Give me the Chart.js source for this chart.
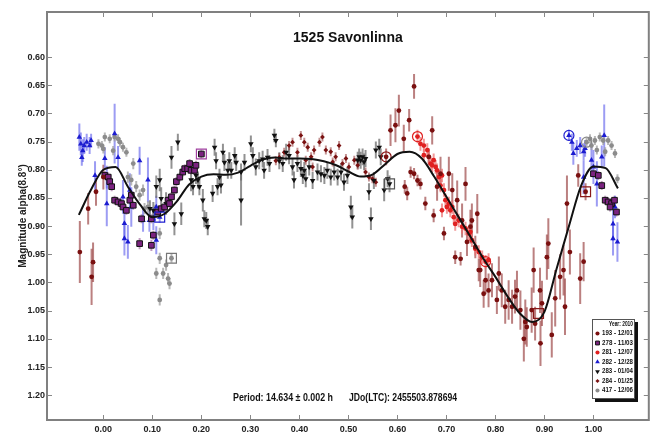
<!DOCTYPE html>
<html>
<head>
<meta charset="utf-8">
<script src="https://cdn.jsdelivr.net/npm/chart.js@4.4.1/dist/chart.umd.min.js"></script>
<style>
html, body { margin: 0; padding: 0; background: #fff; }
</style>
</head>
<body>
<canvas id="myChart" width="657" height="440"></canvas>
<script>
// tick labels
var xTicks = [0, 0.1, 0.2, 0.3, 0.4, 0.5, 0.6, 0.7, 0.8, 0.9, 1.0];
var yTicks = [0.60, 0.65, 0.70, 0.75, 0.80, 0.85, 0.90, 0.95, 1.00, 1.05, 1.10, 1.15, 1.20];

// legend names
var names = ["193 - 12/01", "278 - 11/03", "281 - 12/07", "282 - 12/28", "283 - 01/04", "284 - 01/25", "417 - 12/06"];

// Fourier fit
var fitX = [-0.05, -0.025, 0, 0.025, 0.05, 0.075, 0.1, 0.125, 0.15, 0.175, 0.2, 0.225, 0.25, 0.275, 0.3, 0.325, 0.35, 0.375, 0.4, 0.425, 0.45, 0.475, 0.5, 0.525, 0.55, 0.575, 0.6, 0.625, 0.65, 0.675, 0.7, 0.725, 0.75, 0.775, 0.8, 0.825, 0.85, 0.875, 0.9, 0.925, 0.95, 0.975, 1.0, 1.025, 1.05];
var fitY = [0.880, 0.835, 0.800, 0.795, 0.830, 0.862, 0.884, 0.878, 0.856, 0.826, 0.812, 0.808, 0.809, 0.805, 0.793, 0.782, 0.778, 0.780, 0.780, 0.781, 0.785, 0.792, 0.803, 0.812, 0.808, 0.790, 0.772, 0.768, 0.780, 0.812, 0.848, 0.884, 0.920, 0.957, 0.990, 1.025, 1.055, 1.070, 1.052, 0.975, 0.900, 0.828, 0.794, 0.797, 0.833];

// 193 - 12/01
var p193 = [-0.048, -0.031, -0.024, -0.021, -0.015, 0.000, 0.577, 0.586, 0.596, 0.603, 0.613, 0.624, 0.634, 0.615, 0.620, 0.627, 0.634, 0.641, 0.647, 0.657, 0.664, 0.671, 0.674, 0.681, 0.688, 0.695, 0.705, 0.712, 0.722, 0.718, 0.729, 0.732, 0.739, 0.742, 0.749, 0.752, 0.763, 0.766, 0.759, 0.769, 0.776, 0.780, 0.786, 0.793, 0.803, 0.807, 0.813, 0.820, 0.827, 0.834, 0.840, 0.844, 0.851, 0.861, 0.864, 0.874, 0.878, 0.881, 0.891, 0.895, 0.905, 0.908, 0.915, 0.922, 0.932, 0.939, 0.942, 0.946, 0.952, 0.973, 0.980, 0.984, 0.969, 0.858, 0.892];
var m193 = [0.946, 0.869, 0.990, 0.964, 0.839, 0.813, 0.777, 0.730, 0.721, 0.695, 0.745, 0.712, 0.652, 0.830, 0.842, 0.804, 0.807, 0.819, 0.825, 0.860, 0.777, 0.730, 0.881, 0.830, 0.807, 0.913, 0.807, 0.836, 0.854, 0.955, 0.958, 0.890, 0.825, 0.928, 0.901, 0.890, 0.878, 0.978, 0.937, 0.978, 1.020, 0.996, 1.014, 0.996, 1.031, 0.984, 1.014, 1.043, 1.031, 1.043, 1.025, 1.014, 1.049, 1.070, 1.079, 1.049, 0.978, 1.073, 1.014, 1.037, 0.955, 0.931, 1.093, 1.028, 0.990, 0.978, 1.043, 0.860, 0.946, 0.993, 0.963, 0.839, 0.810, 1.100, 1.108];
var e193 = [0.055, 0.028, 0.050, 0.035, 0.025, 0.022, 0.015, 0.028, 0.030, 0.028, 0.025, 0.020, 0.022, 0.012, 0.012, 0.010, 0.010, 0.010, 0.010, 0.012, 0.015, 0.025, 0.012, 0.025, 0.030, 0.012, 0.030, 0.030, 0.035, 0.012, 0.012, 0.030, 0.030, 0.025, 0.030, 0.030, 0.035, 0.020, 0.020, 0.030, 0.025, 0.025, 0.030, 0.030, 0.025, 0.030, 0.030, 0.030, 0.035, 0.030, 0.030, 0.035, 0.035, 0.040, 0.035, 0.040, 0.040, 0.030, 0.040, 0.040, 0.040, 0.045, 0.040, 0.050, 0.040, 0.045, 0.050, 0.050, 0.040, 0.045, 0.035, 0.015, 0.020, 0.040, 0.040];

// 278 - 11/03
var p278 = [0.003, 0.010, 0.013, 0.017, 0.023, 0.030, 0.037, 0.040, 0.047, 0.054, 0.057, 0.061, 0.078, 0.074, 0.098, 0.098, 0.102, 0.111, 0.118, 0.125, 0.132, 0.135, 0.139, 0.145, 0.149, 0.156, 0.162, 0.166, 0.172, 0.176, 0.179, 0.186, 0.189, 0.200, 1.000, 1.010, 1.017, 1.024, 1.030, 1.037, 1.043, 1.047, 1.034];
var m278 = [0.810, 0.813, 0.821, 0.830, 0.854, 0.857, 0.860, 0.866, 0.872, 0.854, 0.845, 0.863, 0.887, 0.931, 0.887, 0.934, 0.916, 0.875, 0.869, 0.866, 0.854, 0.860, 0.848, 0.836, 0.821, 0.813, 0.804, 0.798, 0.798, 0.789, 0.801, 0.801, 0.792, 0.772, 0.807, 0.810, 0.828, 0.854, 0.857, 0.860, 0.854, 0.875, 0.866];
var e278 = [0.008, 0.008, 0.008, 0.008, 0.008, 0.008, 0.008, 0.008, 0.008, 0.008, 0.008, 0.008, 0.008, 0.010, 0.008, 0.010, 0.008, 0.008, 0.008, 0.008, 0.008, 0.008, 0.008, 0.008, 0.008, 0.008, 0.008, 0.008, 0.008, 0.008, 0.008, 0.008, 0.008, 0.008, 0.008, 0.008, 0.008, 0.008, 0.008, 0.008, 0.008, 0.008, 0.008];

// 281 - 12/07
var p281 = [0.641, 0.647, 0.654, 0.654, 0.661, 0.664, 0.668, 0.671, 0.674, 0.678, 0.681, 0.685, 0.688, 0.691, 0.691, 0.695, 0.698, 0.701, 0.705, 0.708, 0.712, 0.715, 0.718, 0.725, 0.732, 0.739, 0.746, 0.749, 0.752, 0.759, 0.766, 0.773, 0.780, 0.786];
var m281 = [0.741, 0.754, 0.757, 0.774, 0.765, 0.777, 0.789, 0.792, 0.783, 0.795, 0.801, 0.813, 0.828, 0.810, 0.872, 0.836, 0.854, 0.866, 0.860, 0.872, 0.866, 0.884, 0.896, 0.890, 0.901, 0.904, 0.913, 0.910, 0.925, 0.940, 0.946, 0.955, 0.963, 0.960];
var e281 = [0.012, 0.012, 0.012, 0.012, 0.012, 0.012, 0.012, 0.012, 0.012, 0.012, 0.012, 0.012, 0.012, 0.012, 0.012, 0.012, 0.012, 0.012, 0.012, 0.012, 0.012, 0.012, 0.012, 0.012, 0.012, 0.012, 0.012, 0.012, 0.012, 0.012, 0.012, 0.012, 0.012, 0.012];

// 282 - 12/28
var p282 = [-0.049, -0.046, -0.044, -0.042, -0.039, -0.034, -0.028, -0.025, -0.017, 0.003, 0.007, 0.007, 0.023, 0.030, 0.040, 0.043, 0.043, 0.050, 0.054, 0.057, 0.074, 0.081, 0.091, 0.094, 0.102, 0.108, 0.108, 0.115, 0.950, 0.956, 0.959, 0.966, 0.973, 0.980, 0.983, 0.980, 0.996, 1.000, 1.007, 1.017, 1.022, 1.040, 1.040, 1.044, 1.049];
var m282 = [0.742, 0.754, 0.778, 0.766, 0.757, 0.751, 0.757, 0.748, 0.810, 0.780, 0.813, 0.860, 0.736, 0.778, 0.848, 0.895, 0.922, 0.928, 0.836, 0.866, 0.784, 0.890, 0.818, 0.890, 0.887, 0.866, 0.925, 0.884, 0.739, 0.751, 0.771, 0.762, 0.757, 0.768, 0.762, 0.813, 0.783, 0.795, 0.825, 0.777, 0.739, 0.896, 0.922, 0.866, 0.928];
var e282 = [0.024, 0.020, 0.015, 0.020, 0.015, 0.015, 0.015, 0.012, 0.025, 0.020, 0.020, 0.040, 0.053, 0.020, 0.030, 0.025, 0.030, 0.030, 0.030, 0.035, 0.025, 0.020, 0.040, 0.020, 0.020, 0.020, 0.025, 0.010, 0.010, 0.015, 0.020, 0.015, 0.015, 0.015, 0.015, 0.030, 0.030, 0.030, 0.040, 0.020, 0.055, 0.030, 0.030, 0.020, 0.035];

// 283 - 01/04
var p283 = [0.095, 0.102, 0.108, 0.115, 0.118, 0.128, 0.139, 0.145, 0.152, 0.159, 0.179, 0.183, 0.189, 0.193, 0.196, 0.203, 0.206, 0.210, 0.213, 0.223, 0.227, 0.230, 0.233, 0.237, 0.240, 0.244, 0.247, 0.254, 0.257, 0.261, 0.268, 0.271, 0.281, 0.281, 0.288, 0.301, 0.305, 0.311, 0.318, 0.325, 0.328, 0.335, 0.339, 0.349, 0.352, 0.359, 0.366, 0.373, 0.379, 0.386, 0.389, 0.396, 0.403, 0.407, 0.410, 0.413, 0.420, 0.427, 0.437, 0.444, 0.451, 0.457, 0.464, 0.471, 0.478, 0.485, 0.491, 0.498, 0.505, 0.508, 0.519, 0.522, 0.525, 0.529, 0.532, 0.535, 0.542, 0.546, 0.552, 0.556, 0.563, 0.566, 0.573, 0.580, 0.584];
var m283 = [0.869, 0.872, 0.830, 0.818, 0.851, 0.860, 0.778, 0.896, 0.751, 0.878, 0.818, 0.830, 0.810, 0.818, 0.830, 0.854, 0.887, 0.890, 0.901, 0.842, 0.760, 0.784, 0.830, 0.813, 0.827, 0.769, 0.787, 0.801, 0.784, 0.801, 0.775, 0.787, 0.854, 0.804, 0.787, 0.754, 0.775, 0.795, 0.784, 0.781, 0.801, 0.778, 0.789, 0.739, 0.748, 0.784, 0.789, 0.769, 0.775, 0.795, 0.818, 0.789, 0.798, 0.810, 0.801, 0.816, 0.795, 0.819, 0.804, 0.807, 0.810, 0.801, 0.813, 0.804, 0.813, 0.804, 0.822, 0.810, 0.866, 0.884, 0.783, 0.777, 0.783, 0.777, 0.786, 0.780, 0.839, 0.887, 0.819, 0.765, 0.760, 0.777, 0.836, 0.816, 0.825];
var e283 = [0.015, 0.015, 0.020, 0.020, 0.020, 0.020, 0.020, 0.020, 0.015, 0.020, 0.020, 0.015, 0.015, 0.015, 0.015, 0.020, 0.015, 0.015, 0.015, 0.015, 0.015, 0.015, 0.015, 0.015, 0.015, 0.015, 0.015, 0.015, 0.015, 0.015, 0.015, 0.015, 0.045, 0.015, 0.015, 0.015, 0.015, 0.015, 0.015, 0.015, 0.015, 0.015, 0.015, 0.012, 0.012, 0.015, 0.015, 0.015, 0.015, 0.015, 0.015, 0.015, 0.015, 0.015, 0.015, 0.015, 0.015, 0.015, 0.015, 0.015, 0.015, 0.015, 0.015, 0.015, 0.015, 0.015, 0.015, 0.015, 0.020, 0.020, 0.015, 0.015, 0.015, 0.015, 0.015, 0.015, 0.015, 0.020, 0.015, 0.015, 0.015, 0.015, 0.020, 0.015, 0.015];

// 284 - 01/25
var p284 = [0.352, 0.359, 0.369, 0.379, 0.386, 0.396, 0.403, 0.410, 0.413, 0.417, 0.424, 0.427, 0.430, 0.441, 0.447, 0.454, 0.464, 0.468, 0.474, 0.481, 0.488, 0.495, 0.501, 0.512, 0.519, 0.535, 0.542, 0.549, 0.556];
var m284 = [0.784, 0.778, 0.769, 0.757, 0.751, 0.769, 0.739, 0.751, 0.783, 0.760, 0.777, 0.795, 0.765, 0.751, 0.742, 0.765, 0.768, 0.786, 0.777, 0.757, 0.789, 0.780, 0.795, 0.783, 0.792, 0.804, 0.813, 0.816, 0.822];
var e284 = [0.008, 0.008, 0.008, 0.008, 0.008, 0.008, 0.008, 0.008, 0.008, 0.008, 0.008, 0.008, 0.008, 0.008, 0.008, 0.008, 0.008, 0.008, 0.008, 0.008, 0.008, 0.008, 0.008, 0.008, 0.008, 0.008, 0.008, 0.008, 0.008];

// 417 - 12/06
var p417 = [-0.010, -0.003, 0.000, 0.003, 0.013, 0.020, 0.023, 0.030, 0.034, 0.040, 0.047, 0.050, 0.057, 0.061, 0.067, 0.074, 0.081, 0.084, 0.091, 0.105, 0.115, 0.115, 0.108, 0.122, 0.128, 0.132, 0.135, 0.115, 0.139, 0.986, 0.993, 0.996, 1.003, 1.007, 1.013, 1.020, 1.024, 1.030, 1.037, 1.044, 1.049];
var m417 = [0.754, 0.757, 0.763, 0.742, 0.745, 0.766, 0.742, 0.745, 0.751, 0.760, 0.769, 0.813, 0.818, 0.789, 0.830, 0.845, 0.836, 0.869, 0.866, 0.872, 0.913, 0.957, 0.984, 0.984, 0.969, 0.993, 1.002, 1.031, 0.957, 0.751, 0.745, 0.757, 0.748, 0.765, 0.742, 0.748, 0.768, 0.748, 0.757, 0.771, 0.816];
var e417 = [0.008, 0.008, 0.008, 0.008, 0.008, 0.008, 0.008, 0.008, 0.008, 0.008, 0.008, 0.010, 0.010, 0.010, 0.010, 0.010, 0.010, 0.010, 0.010, 0.010, 0.010, 0.010, 0.010, 0.010, 0.010, 0.010, 0.010, 0.010, 0.008, 0.008, 0.008, 0.008, 0.008, 0.008, 0.008, 0.008, 0.008, 0.008, 0.008, 0.008, 0.008];

// open rings and boxes around some points
var ringX = [0.577, 0.641, 0.780, 0.950, 0.986];
var ringY = [0.777, 0.741, 0.963, 0.739, 0.751];
var ringC = ["#8a1a1a", "#e02020", "#e02020", "#2020d0", "#888888"];
var boxX = [0.984, 0.584, 0.139, 0.200, 0.115, 0.888];
var boxY = [0.839, 0.825, 0.957, 0.772, 0.884, 1.055];
var boxC = ["#8a1a1a", "#555555", "#777777", "#a040a0", "#2020d0", "#8a1a1a"];

function pts(xs, ys) {
    var out = [];
    for (var i = 0; i < xs.length; i++) out.push({ x: xs[i], y: ys[i] });
    return out;
}

var narrow = "'Liberation Sans Narrow', 'Liberation Sans', Arial, sans-serif";
var sans = "'Liberation Sans', Arial, sans-serif";

var series = [
    { label: names[0], data: pts(p193, m193), errors: e193, errorColor: "rgba(150,60,60,0.65)", pointStyle: "circle", pointRadius: 2.4, backgroundColor: "#7a1010", borderColor: "#7a1010", borderWidth: 0 },
    { label: names[1], data: pts(p278, m278), errors: e278, errorColor: "rgba(150,90,150,0.6)", pointStyle: "rect", pointRadius: 4, backgroundColor: "#7b2380", borderColor: "#111", borderWidth: 1 },
    { label: names[2], data: pts(p281, m281), errors: e281, errorColor: "rgba(235,110,110,0.7)", pointStyle: "circle", pointRadius: 2.4, backgroundColor: "#e02020", borderColor: "#e02020", borderWidth: 0 },
    { label: names[3], data: pts(p282, m282), errors: e282, errorColor: "rgba(90,90,235,0.6)", pointStyle: "triangle", pointRadius: 3.2, backgroundColor: "#1c1cd0", borderColor: "#1c1cd0", borderWidth: 0 },
    { label: names[4], data: pts(p283, m283), errors: e283, errorColor: "rgba(110,110,110,0.75)", pointStyle: "triangle", pointRotation: 180, pointRadius: 3.2, backgroundColor: "#111", borderColor: "#111", borderWidth: 0 },
    { label: names[5], data: pts(p284, m284), errors: e284, errorColor: "rgba(150,60,60,0.55)", pointStyle: "rectRot", pointRadius: 2.4, backgroundColor: "#7a1212", borderColor: "#7a1212", borderWidth: 0 },
    { label: names[6], data: pts(p417, m417), errors: e417, errorColor: "rgba(160,160,160,0.75)", pointStyle: "circle", pointRadius: 2.4, backgroundColor: "#8c8c8c", borderColor: "#8c8c8c", borderWidth: 0 }
];

var datasets = [{
    label: "fit",
    data: pts(fitX, fitY),
    showLine: true,
    borderColor: "#111",
    borderWidth: 2,
    pointRadius: 0,
    cubicInterpolationMode: "monotone",
    order: -2
}, {
    label: "rings",
    data: pts(ringX, ringY),
    pointStyle: "circle",
    pointRadius: 5,
    backgroundColor: "rgba(0,0,0,0)",
    borderColor: ringC,
    borderWidth: 1.2,
    order: -1
}, {
    label: "boxes",
    data: pts(boxX, boxY),
    pointStyle: "rect",
    pointRadius: 7,
    backgroundColor: "rgba(0,0,0,0)",
    borderColor: boxC,
    borderWidth: 1.2,
    order: -1
}];
series.forEach(function (s) { datasets.push(s); });

// error bars under the points
var errorBars = {
    id: "errorBars",
    beforeDatasetsDraw: function (chart) {
        var ctx = chart.ctx, xs = chart.scales.x, ys = chart.scales.y, a = chart.chartArea;
        ctx.save();
        ctx.beginPath();
        ctx.rect(a.left, a.top, a.right - a.left, a.bottom - a.top);
        ctx.clip();
        chart.data.datasets.forEach(function (ds) {
            if (!ds.errors) return;
            ctx.strokeStyle = ds.errorColor;
            ctx.lineWidth = 2;
            for (var i = 0; i < ds.data.length; i++) {
                var px = xs.getPixelForValue(ds.data[i].x);
                ctx.beginPath();
                ctx.moveTo(px, ys.getPixelForValue(ds.data[i].y - ds.errors[i]));
                ctx.lineTo(px, ys.getPixelForValue(ds.data[i].y + ds.errors[i]));
                ctx.stroke();
            }
        });
        ctx.restore();
    }
};

// frame, inward ticks, title, period text, legend
var decor = {
    id: "decor",
    afterDraw: function (chart) {
        var ctx = chart.ctx, xs = chart.scales.x, ys = chart.scales.y, a = chart.chartArea;
        ctx.save();
        ctx.strokeStyle = "#808080";
        ctx.lineWidth = 2;
        ctx.strokeRect(a.left, a.top, a.right - a.left, a.bottom - a.top);
        ctx.lineWidth = 1;
        ctx.strokeStyle = "#888";
        xTicks.forEach(function (v) {
            var px = Math.round(xs.getPixelForValue(v)) + 0.5;
            ctx.beginPath();
            ctx.moveTo(px, a.top); ctx.lineTo(px, a.top + 5);
            ctx.moveTo(px, a.bottom); ctx.lineTo(px, a.bottom - 5);
            ctx.stroke();
        });
        yTicks.forEach(function (v) {
            var py = Math.round(ys.getPixelForValue(v)) + 0.5;
            ctx.beginPath();
            ctx.moveTo(a.left, py); ctx.lineTo(a.left + 5, py);
            ctx.moveTo(a.right, py); ctx.lineTo(a.right - 5, py);
            ctx.stroke();
        });

        ctx.fillStyle = "#111";
        ctx.textAlign = "center";
        ctx.textBaseline = "middle";
        ctx.font = "bold 14px " + sans;
        ctx.fillText("1525 Savonlinna", (a.left + a.right) / 2, 38);

        ctx.font = "bold 10px " + narrow;
        ctx.textAlign = "right";
        ctx.fillText("Period: 14.634 \u00b1 0.002 h", 333, 398, 100);
        ctx.textAlign = "left";
        ctx.fillText("JDo(LTC): 2455503.878694", 349, 398, 108);

        // legend box
        var lx = 592, ly = 319, lw = 43, lh = 80;
        ctx.fillStyle = "#111";
        ctx.fillRect(lx + 3, ly + 3, lw, lh);
        ctx.fillStyle = "#fff";
        ctx.fillRect(lx, ly, lw, lh);
        ctx.strokeStyle = "#555";
        ctx.lineWidth = 1;
        ctx.strokeRect(lx + 0.5, ly + 0.5, lw - 1, lh - 1);
        ctx.fillStyle = "#111";
        ctx.font = "bold 7px " + narrow;
        ctx.textAlign = "right";
        ctx.fillText("Year: 2010", lx + lw - 2, ly + 5.5, 24);
        ctx.textAlign = "left";
        series.forEach(function (s, i) {
            var yy = ly + 14.5 + i * 9.5;
            ctx.fillStyle = s.backgroundColor;
            ctx.strokeStyle = s.borderColor;
            Chart.helpers.drawPoint(ctx, {
                pointStyle: s.pointStyle,
                rotation: s.pointRotation || 0,
                radius: Math.min(s.pointRadius, 3.2) * 0.85,
                borderWidth: s.borderWidth
            }, lx + 5.5, yy);
            ctx.fillStyle = "#111";
            ctx.fillText(s.label, lx + 10, yy, 31);
        });
        ctx.restore();
    }
};

var ctx = document.getElementById("myChart");
var myChart = new Chart(ctx, {
    type: "scatter",
    data: { datasets: datasets },
    options: {
        responsive: false,
        animation: false,
        devicePixelRatio: 1,
        layout: { padding: { left: 0, right: 5, top: 12, bottom: 0 } },
        plugins: {
            legend: { display: false },
            tooltip: { enabled: false },
            title: { display: false }
        },
        scales: {
            x: {
                type: "linear",
                min: -0.115,
                max: 1.113,
                afterBuildTicks: function (s) { s.ticks = xTicks.map(function (v) { return { value: v }; }); },
                afterFit: function (s) { s.height = 20; },
                grid: { drawOnChartArea: false, drawTicks: false },
                border: { display: false },
                ticks: {
                    autoSkip: false,
                    maxRotation: 0,
                    padding: 4,
                    color: "#222",
                    font: { family: narrow, size: 9, weight: "bold" },
                    callback: function (v) { return v.toFixed(2); }
                }
            },
            y: {
                type: "linear",
                reverse: true,
                min: 0.52,
                max: 1.244,
                afterBuildTicks: function (s) { s.ticks = yTicks.map(function (v) { return { value: v }; }); },
                afterFit: function (s) { s.width = 47; },
                grid: { drawOnChartArea: false, drawTicks: false },
                border: { display: false },
                title: {
                    display: true,
                    text: "Magnitude alpha(8.8\u00b0)",
                    color: "#222",
                    font: { family: sans, size: 10, weight: "bold" },
                    padding: { top: 17, bottom: 0 }
                },
                ticks: {
                    padding: 2,
                    color: "#222",
                    font: { family: narrow, size: 9, weight: "bold" },
                    callback: function (v) { return v.toFixed(2); }
                }
            }
        }
    },
    plugins: [errorBars, decor]
});
</script>
</body>
</html>
